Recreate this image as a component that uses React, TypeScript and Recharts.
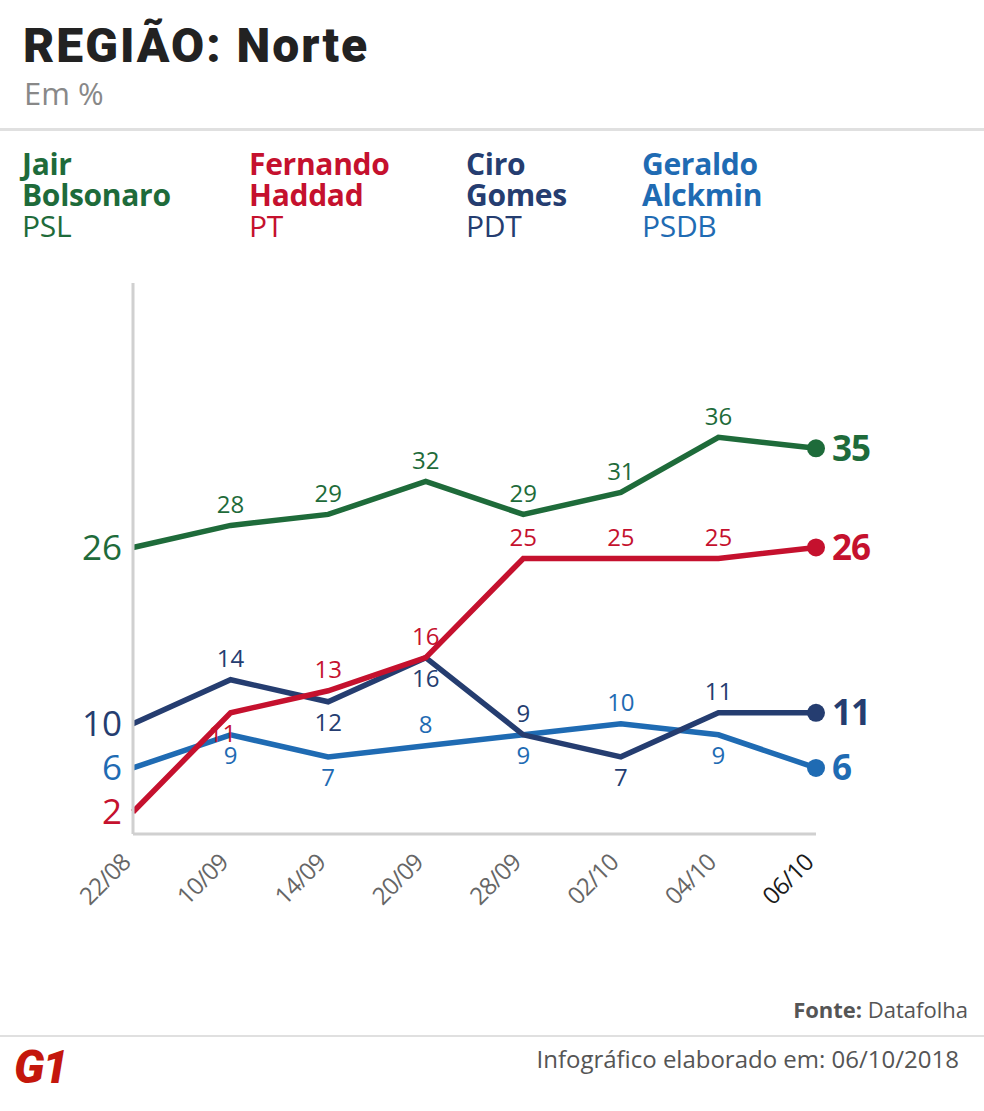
import React from "react"
import { LineChart, Line, XAxis, YAxis, LabelList } from "recharts"

const dates = ["22/08", "10/09", "14/09", "20/09", "28/09", "02/10", "04/10", "06/10"]
const bolsonaro = [26, 28, 29, 32, 29, 31, 36, 35]
const haddad = [2, 11, 13, 16, 25, 25, 25, 26]
const ciro = [10, 14, 12, 16, 9, 7, 11, 11]
const alckmin = [6, 9, 7, 8, 9, 10, 9, 6]

// where each middle label sits relative to its point
const bolsonaroSide = ["", "up", "up", "up", "up", "up", "up", ""]
const haddadSide = ["", "down", "up", "up", "up", "up", "up", ""]
const ciroSide = ["", "up", "down", "down", "up", "down", "up", ""]
const alckminSide = ["", "down", "down", "up", "down", "up", "down", ""]

const data = dates.map((date, i) => ({
  date,
  bolsonaro: bolsonaro[i],
  haddad: haddad[i],
  ciro: ciro[i],
  alckmin: alckmin[i],
}))

const GREEN = "#1e6b3a"
const RED = "#c5112e"
const NAVY = "#253d70"
const BLUE = "#1f6bb3"
const FONT = "'Open Sans', sans-serif"

const W = 984
const H = 1111

function makeLabel(color: string, sides: string[]) {
  const last = dates.length - 1
  return (props: any) => {
    const { x, y, value, index } = props
    if (index === 0) {
      return (
        <text x={x - 11} y={y} dy="0.35em" textAnchor="end" fill={color} fontSize={35} fontFamily={FONT}>
          {value}
        </text>
      )
    }
    if (index === last) {
      return (
        <text x={x + 16} y={y} dy="0.35em" textAnchor="start" fill={color} fontSize={35} fontWeight={700} fontFamily={FONT} letterSpacing={-1}>
          {value}
        </text>
      )
    }
    const down = sides[index] === "down"
    // the crowded red label at 10/09 sits a little to the left in the original
    const nudge = color === RED && down ? -8 : 0
    return (
      <text x={x + nudge} y={y + (down ? 21 : -21)} dy="0.35em" textAnchor="middle" fill={color} fontSize={24} fontFamily={FONT}>
        {value}
      </text>
    )
  }
}

function makeDot(color: string) {
  const last = dates.length - 1
  return (props: any) => {
    const { cx, cy, index } = props
    if (index !== last) return <g key={`d${index}`} />
    return <circle key={`d${index}`} cx={cx} cy={cy} r={9} fill={color} />
  }
}

const DateTick = (props: any) => {
  const { x, y, payload, index } = props
  const isLast = index === dates.length - 1
  return (
    <g transform={`translate(${x - 1},${y + 22})`}>
      <text
        x={0}
        y={0}
        textAnchor="end"
        transform="rotate(-45)"
        fill={isLast ? "#1a1a1a" : "#666"}
        fontSize={24}
        fontFamily={FONT}
        letterSpacing={-0.8}
      >
        {payload.value}
      </text>
    </g>
  )
}

const series = [
  { key: "alckmin", color: BLUE, sides: alckminSide },
  { key: "ciro", color: NAVY, sides: ciroSide },
  { key: "haddad", color: RED, sides: haddadSide },
  { key: "bolsonaro", color: GREEN, sides: bolsonaroSide },
]

const legend = [
  { first: "Jair", last: "Bolsonaro", party: "PSL", color: GREEN, left: 22 },
  { first: "Fernando", last: "Haddad", party: "PT", color: RED, left: 249 },
  { first: "Ciro", last: "Gomes", party: "PDT", color: NAVY, left: 466 },
  { first: "Geraldo", last: "Alckmin", party: "PSDB", color: BLUE, left: 642 },
]

export default function App() {
  return (
    <div style={{ position: "absolute", left: 0, top: 0, width: W, height: H, background: "#fff", overflow: "hidden" }}>
      <div style={{ position: "absolute", left: 23, top: 16, fontFamily: "Roboto, sans-serif", fontWeight: 900, fontSize: 48, color: "#222", lineHeight: "60px", letterSpacing: 2 }}>
        REGIÃO: Norte
      </div>
      <div style={{ position: "absolute", left: 24, top: 74, fontFamily: FONT, fontSize: 31, color: "#888", lineHeight: "38px" }}>
        Em %
      </div>
      <div style={{ position: "absolute", left: 0, top: 128, width: W, height: 3, background: "#e0e0e0" }} />
      {legend.map((l) => (
        <div key={l.party} style={{ position: "absolute", left: l.left, top: 148, fontFamily: FONT, fontSize: 30, color: l.color, lineHeight: "31px", letterSpacing: -0.3 }}>
          <div style={{ fontWeight: 700 }}>{l.first}</div>
          <div style={{ fontWeight: 700 }}>{l.last}</div>
          <div>{l.party}</div>
        </div>
      ))}
      <div style={{ position: "absolute", left: 0, top: 0 }}>
        <LineChart width={W} height={H} data={data} margin={{ top: 283, right: 168, bottom: 197, left: 132 }}>
          <XAxis
            dataKey="date"
            interval={0}
            tickLine={false}
            axisLine={{ stroke: "#d0d0d0", strokeWidth: 3 }}
            tick={<DateTick />}
            height={80}
          />
          <YAxis domain={[0, 50]} width={1} tick={false} tickLine={false} axisLine={{ stroke: "#d0d0d0", strokeWidth: 3 }} />
          {series.map((s) => (
            <Line
              key={s.key}
              type="linear"
              dataKey={s.key}
              stroke={s.color}
              strokeWidth={5.5}
              dot={makeDot(s.color)}
              activeDot={false}
              isAnimationActive={false}
            >
              <LabelList dataKey={s.key} content={makeLabel(s.color, s.sides)} />
            </Line>
          ))}
        </LineChart>
      </div>
      <div style={{ position: "absolute", right: 16, top: 994, fontFamily: FONT, fontSize: 22, color: "#555" }}>
        <span style={{ fontWeight: 700 }}>Fonte:</span> Datafolha
      </div>
      <div style={{ position: "absolute", left: 0, top: 1035, width: W, height: 2, background: "#e0e0e0" }} />
      <div style={{ position: "absolute", right: 25, top: 1042, fontFamily: FONT, fontSize: 24, color: "#555" }}>
        Infográfico elaborado em: 06/10/2018
      </div>
      <div style={{ position: "absolute", left: 14, top: 1040, fontFamily: "Roboto, sans-serif", fontWeight: 900, fontStyle: "italic", fontSize: 46, color: "#c4170c", letterSpacing: -2 }}>
        G1
      </div>
    </div>
  )
}
